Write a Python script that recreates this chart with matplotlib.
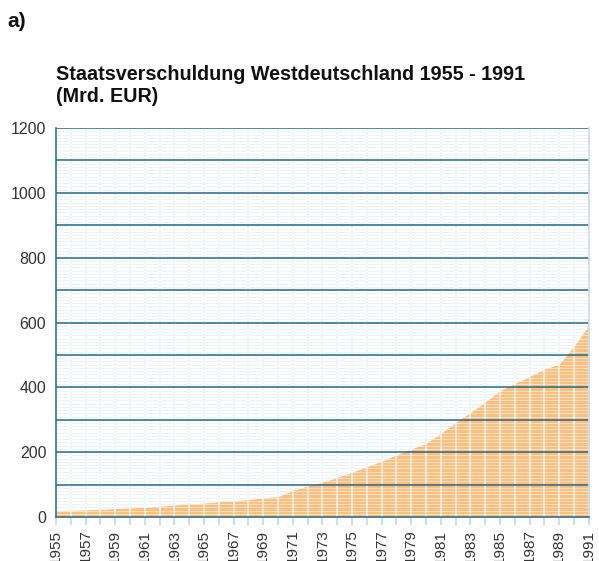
import matplotlib
import matplotlib.pyplot as plt
import numpy as np

matplotlib.use("Agg")

# Daten, Mrd. EUR
years = list(range(1955, 1992))
debt = [18, 20, 22, 24, 26, 28, 30, 33, 37, 40,
        43, 47, 50, 54, 59, 63, 82, 96, 108, 122,
        138, 155, 172, 192, 210, 227, 258, 292, 323, 355,
        390, 412, 434, 456, 472, 527, 592]
y_ticks = [0, 200, 400, 600, 800, 1000, 1200]
x_labels = [str(y) if y % 2 == 1 else "" for y in years]

plt.rcParams["font.family"] = ["Liberation Sans", "DejaVu Sans"]

DARK = "#1f6a8e"
LIGHT = "#dae8f3"
ORANGE = "#fbbf80"

fig = plt.figure(figsize=(5.99, 5.61), dpi=100)
ax = fig.add_axes([0.0935, 0.0784, 0.8895, 0.6934])

# feines Raster unter der Fläche
for v in np.arange(10, 1200, 10):
    if v % 100:
        ax.axhline(v, color=LIGHT, linewidth=0.55, zorder=0.5, antialiased=False)
for yr in years[1:]:
    ax.axvline(yr, color=LIGHT, linewidth=1.5, zorder=0.5)

ax.fill_between(years, 0, debt, color=ORANGE, linewidth=0, zorder=1)

# helle Streifen über der Fläche
for v in np.arange(10, 1200, 10):
    if v % 100:
        ax.axhline(v, color="white", alpha=0.5, linewidth=0.55, zorder=1.5,
                   antialiased=False)
for yr in years[1:]:
    ax.axvline(yr, color="white", alpha=0.6, linewidth=1.5, zorder=1.5)

# Hauptlinien
for v in range(100, 1300, 100):
    ax.axhline(v, color=DARK, linewidth=1.1, zorder=2)

ax.set_xlim(1955, 1991)
ax.set_ylim(0, 1200)
ax.set_yticks(y_ticks)
ax.set_xticks(years)
ax.set_xticklabels(x_labels, rotation=90, va="top")
ax.tick_params(axis="y", length=0, labelsize=11.5, labelcolor="#333333", pad=7)
ax.tick_params(axis="x", length=6, width=1.3, color="#c9dceb",
               labelsize=11, labelcolor="#333333", pad=3)

for side in ["left", "bottom"]:
    ax.spines[side].set_color(DARK)
    ax.spines[side].set_linewidth(1.1)
ax.spines["top"].set_visible(False)
ax.spines["right"].set_color("#c9dceb")
ax.spines["right"].set_linewidth(1.2)

fig.text(0.013, 0.961, "a)", fontsize=15, fontweight="bold", va="center",
         color="#111111")
fig.text(0.0935, 1 - 75 / 561, "Staatsverschuldung Westdeutschland 1955 - 1991",
         fontsize=14.2, fontweight="bold", va="center", ha="left", color="#111111")
fig.text(0.0935, 1 - 97 / 561, "(Mrd. EUR)",
         fontsize=14.2, fontweight="bold", va="center", ha="left", color="#111111")

plt.savefig("out.png", dpi=100)
plt.close(fig)
